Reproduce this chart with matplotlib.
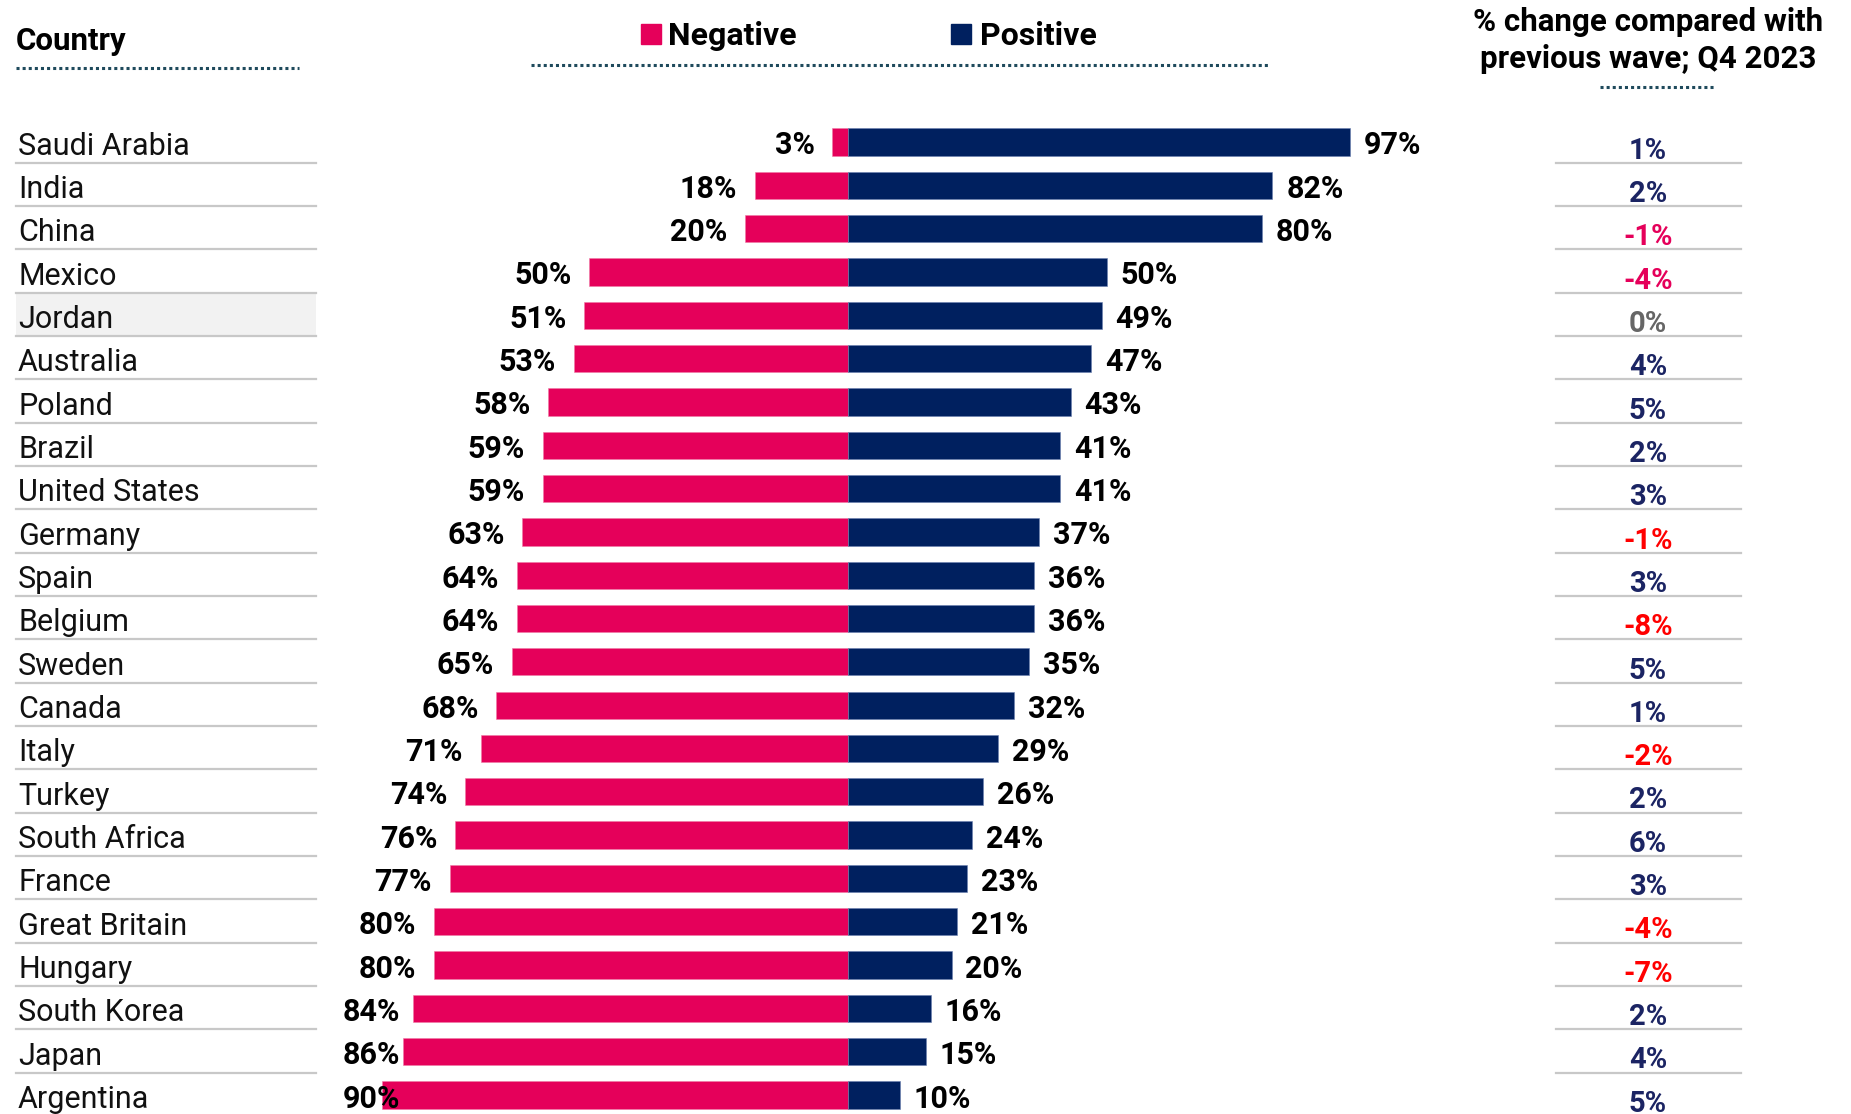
import matplotlib
matplotlib.use("Agg")
import matplotlib.pyplot as plt
from matplotlib.patches import Rectangle
import matplotlib.transforms as mtransforms

countries = ["Saudi Arabia", "India", "China", "Mexico", "Jordan", "Australia", "Poland",
             "Brazil", "United States", "Germany", "Spain", "Belgium", "Sweden", "Canada",
             "Italy", "Turkey", "South Africa", "France", "Great Britain", "Hungary",
             "South Korea", "Japan", "Argentina"]
negative = [3, 18, 20, 50, 51, 53, 58, 59, 59, 63, 64, 64, 65, 68, 71, 74, 76, 77, 80, 80, 84, 86, 90]
positive = [97, 82, 80, 50, 49, 47, 43, 41, 41, 37, 36, 36, 35, 32, 29, 26, 24, 23, 21, 20, 16, 15, 10]
change = [1, 2, -1, -4, 0, 4, 5, 2, 3, -1, 3, -8, 5, 1, -2, 2, 6, 3, -4, -7, 2, 4, 5]
pink_change = ["China", "Mexico"]

NEG = "#E5005A"
POS = "#00205F"
NAVY_TXT = "#1B2463"
DOT = "#1F4A5C"
SEP = "#C8C8C8"

W, H = 1851, 1114
fig = plt.figure(figsize=(W / 100, H / 100), dpi=100)
plt.rcParams["font.family"] = ["Roboto", "DejaVu Sans"]

# axes covering whole figure; x in %, y in rows
px_per = 5.175
x0 = 848
row0, row_h = 142, 43.32
ax = fig.add_axes([0, 0, 1, 1])
ax.set_xlim(-x0 / px_per, (W - x0) / px_per)
ax.set_ylim((H - row0) / row_h, -row0 / row_h)
ax.axis("off")

def fx(px):
    return px / W

def fy(py):
    return 1 - py / H

y = list(range(len(countries)))
ax.barh(y, [-v for v in negative], height=0.63, color=NEG, edgecolor="#F07AA5", linewidth=0.4)
ax.barh(y, positive, height=0.63, color=POS, edgecolor="#6A7FB0", linewidth=0.4)

for i in y:
    nx = max(-negative[i] - 3.4, -86.6)
    ax.text(nx, i + 0.08, f"{negative[i]}%", ha="right", va="center",
            fontsize=22, fontweight="bold", color="black")
    ax.text(positive[i] + 2.7, i + 0.08, f"{positive[i]}%", ha="left", va="center",
            fontsize=22, fontweight="bold", color="black")

# country column and change column via blended transform (x in figure px fraction)
tr = mtransforms.blended_transform_factory(fig.transFigure, ax.transData)
jordan = countries.index("Jordan")
ax.add_patch(Rectangle((fx(16), jordan - 0.52), fx(316) - fx(16), 1.0,
                       transform=tr, color="#F2F2F2", zorder=0, linewidth=0))

for i, name in enumerate(countries):
    ax.text(fx(18), i + 0.1, name, transform=tr, ha="left", va="center",
            fontsize=22, color="#111111")
    c = change[i]
    if c == 0:
        col = "#666666"
    elif c > 0:
        col = NAVY_TXT
    elif name in pink_change:
        col = NEG
    else:
        col = "#FF0000"
    ax.text(fx(1648), i + 0.2, f"{c}%", transform=tr, ha="center", va="center",
            fontsize=21, fontweight="bold", color=col)
    if i < len(countries) - 1:
        ax.plot([fx(16), fx(316)], [i + 0.48, i + 0.48], transform=tr, color=SEP, lw=1.6, zorder=1)
        ax.plot([fx(1556), fx(1741)], [i + 0.48, i + 0.48], transform=tr, color=SEP, lw=1.6, zorder=1)

# headers
fig.text(fx(16), fy(41), "Country", ha="left", va="center", fontsize=22.5, fontweight="bold")
fig.add_artist(plt.Line2D([fx(16), fx(299)], [fy(68), fy(68)], color=DOT, lw=2.2, ls=(0, (1, 1))))

fig.add_artist(Rectangle((fx(641), fy(44)), fx(20), 20 / H, color=NEG))
fig.text(fx(668), fy(36), "Negative", ha="left", va="center", fontsize=23, fontweight="bold")
fig.add_artist(Rectangle((fx(951), fy(44)), fx(20), 20 / H, color=POS))
fig.text(fx(980), fy(36), "Positive", ha="left", va="center", fontsize=23, fontweight="bold")
fig.add_artist(plt.Line2D([fx(531), fx(1269)], [fy(65), fy(65)], color=DOT, lw=2.2, ls=(0, (1, 1))))

fig.text(fx(1648), fy(22), "% change compared with", ha="center", va="center", fontsize=22.5, fontweight="bold")
fig.text(fx(1648), fy(59), "previous wave; Q4 2023", ha="center", va="center", fontsize=22.5, fontweight="bold")
fig.add_artist(plt.Line2D([fx(1600), fx(1715)], [fy(87), fy(87)], color=DOT, lw=2.2, ls=(0, (1, 1))))

fig.savefig("out.png", dpi=100, facecolor="white")
